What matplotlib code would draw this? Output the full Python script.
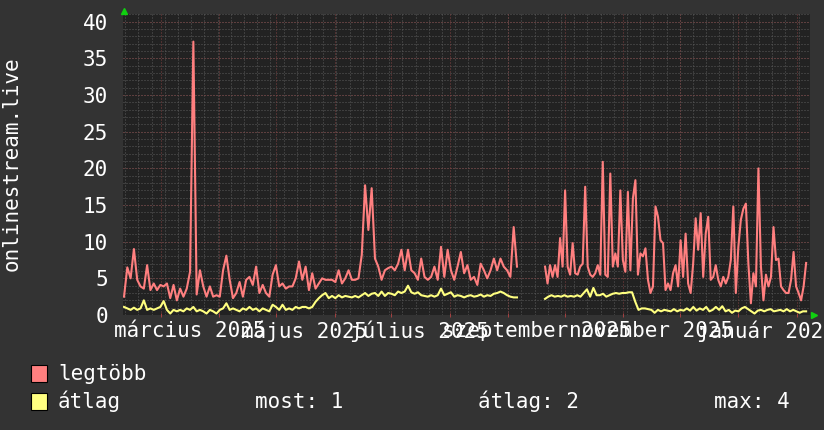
import matplotlib
matplotlib.use("Agg")
import matplotlib.pyplot as plt
from matplotlib.patches import Rectangle
from matplotlib.lines import Line2D
import numpy as np
import pandas as pd

W, H = 824, 430

# "legtöbb" (max) series, two parts with a gap in September
max_part1 = [2.5, 6.5, 5.0, 9.0, 4.8, 3.9, 3.6, 6.8, 3.4, 4.3,
             3.4, 4.1, 3.9, 4.3, 2.3, 4.1, 2.0, 3.6, 2.5, 3.6,
             5.9, 37.3, 2.8, 6.1, 3.9, 2.5, 3.9, 2.5, 2.7, 2.5,
             6.1, 8.1, 4.8, 2.3, 3.0, 4.5, 2.5, 4.8, 5.2, 4.1,
             6.6, 3.0, 4.1, 3.0, 2.5, 5.5, 6.8, 3.9, 4.3, 3.6,
             3.9, 3.9, 5.0, 7.3, 4.8, 6.6, 3.4, 5.7, 3.6, 4.3,
             5.0, 4.8, 4.8, 4.8, 4.5, 6.1, 4.3, 5.0, 6.1, 4.8,
             4.8, 5.0, 8.2, 17.7, 11.6, 17.3, 7.7, 6.6, 4.8, 6.1,
             6.4, 6.6, 6.1, 7.0, 8.9, 6.1, 8.9, 6.1, 5.7, 4.8,
             7.7, 5.2, 4.8, 5.2, 6.6, 4.8, 9.3, 5.2, 8.9, 6.1,
             4.8, 6.6, 8.6, 5.7, 6.8, 4.8, 5.2, 4.1, 7.0, 6.1,
             5.0, 6.1, 7.7, 6.1, 7.7, 6.6, 6.1, 5.2, 12.0, 6.6]
max_part2 = [6.6, 4.3, 6.8, 5.2, 6.8, 5.2, 10.5, 6.6, 17.0,
             6.6, 5.5, 9.8, 5.7, 5.5, 6.6, 7.0, 17.5, 6.6,
             5.5, 5.2, 5.7, 6.8, 5.5, 20.9, 5.5, 5.2, 19.3, 6.6,
             8.4, 6.6, 17.0, 7.5, 5.9, 16.8, 6.1, 15.9, 18.4, 5.5,
             8.4, 8.0, 9.1, 4.8, 3.0, 3.9, 14.8, 13.4, 10.2, 9.8,
             3.4, 4.3, 3.4, 5.7, 6.8, 3.9, 10.2, 5.2, 11.1, 4.3,
             3.0, 7.0, 13.2, 8.9, 13.9, 5.2, 11.1, 13.4, 4.8, 5.2,
             6.8, 4.8, 3.9, 5.2, 4.3, 5.2, 7.5, 14.8, 3.0, 9.3,
             13.0, 14.5, 15.2, 7.0, 1.6, 5.7, 3.9, 20.0, 6.6, 2.0,
             5.5, 3.9, 5.2, 12.0, 7.5, 7.7, 3.9, 3.4, 3.0, 3.0,
             4.8, 8.6, 3.9, 3.0, 2.0, 3.9, 7.1]

# "átlag" (average) series
avg_part1 = [1.1, 0.9, 0.7, 1.0, 0.7, 0.9, 2.0, 0.7, 0.9, 0.7,
             0.9, 1.1, 1.9, 0.7, 0.2, 0.7, 0.5, 0.7, 0.5, 0.9,
             0.7, 1.1, 0.5, 0.7, 0.5, 0.2, 0.7, 0.5, 0.2, 0.7,
             0.9, 1.6, 0.7, 0.9, 0.7, 0.5, 0.9, 0.7, 1.1, 0.7,
             0.9, 0.5, 0.9, 0.7, 0.5, 1.4, 1.1, 0.7, 1.4, 0.7,
             0.9, 0.7, 1.1, 0.9, 1.1, 1.1, 0.9, 1.1, 1.8, 2.3,
             2.7, 3.0, 2.3, 2.6, 2.3, 2.7, 2.4, 2.6, 2.5, 2.4,
             2.6, 2.4, 2.7, 3.0, 2.6, 2.9, 3.0, 2.6, 3.2, 2.6,
             3.0, 2.9, 2.7, 3.2, 3.0, 3.2, 4.0, 3.1, 2.9, 3.1,
             2.7, 2.6, 2.5, 2.7, 2.5, 2.7, 3.6, 2.7, 2.9, 3.1,
             2.5, 2.7, 2.6, 2.4, 2.6, 2.7, 2.5, 2.6, 2.8, 2.5,
             2.7, 2.6, 2.9, 3.0, 3.2, 3.0, 2.7, 2.5, 2.4, 2.4]
avg_part2 = [2.2, 2.5, 2.7, 2.5, 2.6, 2.5, 2.7, 2.5, 2.6, 2.5,
             2.7, 2.5, 3.0, 3.5, 2.5, 3.7, 2.7, 2.7, 2.9, 2.5,
             2.7, 2.9, 3.0, 2.9, 3.0, 3.0, 3.1, 3.1, 1.8, 0.7,
             0.9, 0.9, 0.8, 0.7, 0.3, 0.7, 0.5, 0.7, 0.6, 0.5,
             0.8, 0.5, 0.7, 0.6, 0.9, 0.6, 1.1, 0.6, 0.9, 0.7,
             1.1, 0.5, 0.7, 1.1, 0.7, 1.2, 0.5, 0.7, 0.3, 0.6,
             0.5, 0.9, 1.1, 0.8, 0.5, 0.2, 0.6, 0.7, 0.5, 0.7,
             0.8, 0.5, 0.6, 0.7, 0.5, 0.8, 0.5, 0.7, 0.5, 0.3,
             0.5, 0.5]

part1_span = ("2025-02-09 09:00", "2025-09-05 17:00")
part2_span = ("2025-09-20 14:00", "2026-02-06 00:00")
x_range = ("2025-02-09 00:00", "2026-02-07 19:00")

label_dates = ["2025-03-16", "2025-05-16", "2025-07-16",
               "2025-09-16", "2025-11-16", "2026-01-16"]
month_labels = ["március 2025", "május 2025", "július 2025",
                "szeptember 2025", "november 2025", "január 2026"]
y_ticks = [0, 5, 10, 15, 20, 25, 30, 35, 40]

series_names = ["legtöbb", "átlag"]
avg_stats = ["most: 1", "átlag: 2", "max: 4"]
y_title = "onlinestream.live"

BG = "#333333"
PLOT_BG = "#222222"
RED = "#ff7f7f"
YELLOW = "#ffff80"
MINOR = "#5a5a5a"
MAJOR = "#7f4040"
GREEN = "#10d010"
FONT = "DejaVu Sans Mono"

plt.rcParams["font.family"] = FONT


def fx(px):
    return px / W


def fy(py):
    return 1 - py / H


def main():
    fig = plt.figure(figsize=(W / 100, H / 100), dpi=100, facecolor=BG)
    ax = fig.add_axes([fx(123.3), fy(315), (809.5 - 123.3) / W, (315 - 14.5) / H])
    ax.set_facecolor(PLOT_BG)
    for s in ax.spines.values():
        s.set_visible(False)

    x0, x1 = pd.Timestamp(x_range[0]), pd.Timestamp(x_range[1])
    dots = (0, (1, 2))

    # horizontal grid
    for v in range(0, 42):
        ax.axhline(v, color=MINOR, lw=0.72, ls=dots, zorder=1)
    for v in y_ticks:
        ax.axhline(v, color=MAJOR, lw=0.72, ls=dots, zorder=1.5)

    # vertical grid: weeks (Mondays) and month starts
    mondays = pd.date_range("2025-02-10", x1, freq="7D")
    months = pd.date_range("2025-03-01", x1, freq="MS")
    for d in mondays:
        ax.axvline(d, color=MINOR, lw=0.72, ls=dots, zorder=1)
    for d in months:
        ax.axvline(d, color=MAJOR, lw=0.72, ls=dots, zorder=1.5)
    ax.vlines(months, -0.3, 0.25, colors="#a04040", lw=0.72, clip_on=False, zorder=2)

    # data
    t1m = pd.date_range(part1_span[0], part1_span[1], periods=len(max_part1))
    t2m = pd.date_range(part2_span[0], part2_span[1], periods=len(max_part2))
    t1a = pd.date_range(part1_span[0], part1_span[1], periods=len(avg_part1))
    t2a = pd.date_range(part2_span[0], part2_span[1], periods=len(avg_part2))
    ax.plot(t1m, max_part1, color=RED, lw=1.5, zorder=3)
    ax.plot(t2m, max_part2, color=RED, lw=1.5, zorder=3)
    ax.plot(t1a, avg_part1, color=YELLOW, lw=1.5, zorder=4)
    ax.plot(t2a, avg_part2, color=YELLOW, lw=1.5, zorder=4)

    ax.set_xlim(x0, x1)
    ax.set_ylim(0, 41)

    ax.set_yticks(y_ticks)
    ax.set_yticklabels([str(v) for v in y_ticks])
    ax.set_xticks(pd.to_datetime(label_dates))
    ax.set_xticklabels(month_labels)
    ax.tick_params(axis="both", length=0, labelcolor="white", labelsize=15)
    ax.tick_params(axis="y", pad=11)
    ax.tick_params(axis="x", pad=4)

    # arrows
    fig.add_artist(Line2D([fx(124.5)], [fy(11)], marker="^", ms=5, color=GREEN,
                          transform=fig.transFigure))
    fig.add_artist(Line2D([fx(813.5)], [fy(314.5)], marker=">", ms=5, color=GREEN,
                          transform=fig.transFigure))

    # y title
    fig.text(fx(11.5), fy(164), y_title, rotation=90, ha="center", va="center",
             color="white", fontsize=15)

    # legend
    for name, col, top, base in [(series_names[0], RED, 365, 380),
                                 (series_names[1], YELLOW, 393, 408.5)]:
        fig.add_artist(Rectangle((fx(31.5), fy(top + 16.5)), 16 / W, 16.5 / H,
                                 facecolor=col, edgecolor="black", lw=0.8,
                                 transform=fig.transFigure))
        fig.text(fx(58), fy(base), name, ha="left", va="baseline",
                 color="white", fontsize=15)
    for txt, xp in zip(avg_stats, [255, 478, 714.5]):
        fig.text(fx(xp), fy(408.5), txt, ha="left", va="baseline",
                 color="white", fontsize=15)

    fig.savefig("out.png", dpi=100, facecolor=BG)


if __name__ == "__main__":
    main()
